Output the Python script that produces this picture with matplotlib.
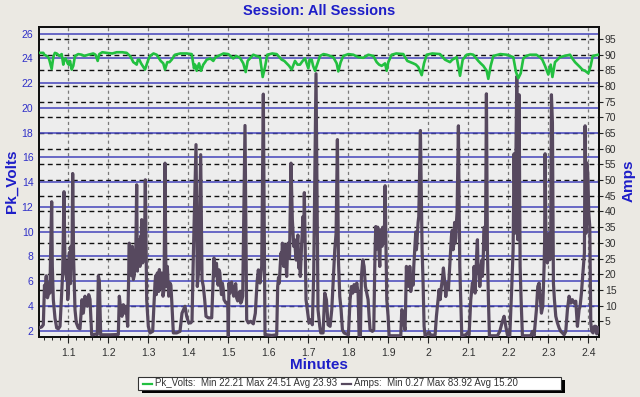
import matplotlib
matplotlib.use("Agg")
import matplotlib.pyplot as plt
import matplotlib.transforms as mtransforms
from matplotlib.patches import Rectangle
from matplotlib.lines import Line2D
from matplotlib.ticker import MultipleLocator

plt.rcParams['font.family'] = ['Liberation Sans', 'DejaVu Sans']

# ---------------- data ----------------
volt_t = [1.0268, 1.0375, 1.046, 1.0525, 1.0585, 1.0625, 1.071, 1.0835, 1.0875, 1.0935,
          1.0985, 1.1043, 1.1085, 1.1125, 1.1168, 1.1335, 1.15, 1.1625, 1.1735, 1.1775,
          1.196, 1.221, 1.246, 1.2543, 1.2625, 1.271, 1.2775, 1.286, 1.2918, 1.296,
          1.3043, 1.321, 1.331, 1.3375, 1.3418, 1.3475, 1.3585, 1.3668, 1.396, 1.4085,
          1.4143, 1.421, 1.4268, 1.4318, 1.4375, 1.446, 1.4625, 1.475, 1.5, 1.5125,
          1.5293, 1.5375, 1.5435, 1.5485, 1.5625, 1.5793, 1.586, 1.5918, 1.5975, 1.621,
          1.6335, 1.646, 1.6585, 1.6668, 1.6793, 1.6918, 1.7, 1.7085, 1.7168, 1.7293,
          1.746, 1.7625, 1.771, 1.775, 1.781, 1.7875, 1.8125, 1.8375, 1.8625, 1.871,
          1.8835, 1.8918, 1.896, 1.9, 1.9085, 1.9375, 1.9475, 1.9625, 1.975, 1.9835,
          1.9893, 1.996, 2.0293, 2.0418, 2.0543, 2.071, 2.0793, 2.086, 2.096, 2.1125,
          2.125, 2.1375, 2.146, 2.15, 2.156, 2.1625, 2.196, 2.2125, 2.2193, 2.225,
          2.231, 2.2375, 2.2543, 2.2793, 2.2918, 2.3, 2.306, 2.3103, 2.3168, 2.3293,
          2.3543, 2.3668, 2.3793, 2.3918, 2.4, 2.406, 2.411, 2.425]
volt_v = [24.45, 24.45, 24.2, 23.9, 23.15, 24.1, 24.4, 24.35, 23.5, 24.0,
          23.6, 23.8, 23.1, 23.4, 24.2, 24.3, 24.3, 24.4, 23.8, 24.35,
          24.45, 24.5, 24.45, 24.2, 23.7, 23.5, 23.9, 23.4, 23.1, 23.5,
          24.2, 24.3, 23.8, 23.6, 23.1, 23.7, 23.9, 24.3, 24.4, 24.35,
          23.2, 23.0, 23.6, 23.0, 23.5, 23.9, 23.8, 24.2, 24.35, 24.0,
          24.05, 23.6, 22.9, 23.8, 24.3, 24.1, 22.5, 23.3, 24.3, 24.35,
          23.9, 23.6, 23.1, 23.8, 23.5, 24.0, 23.2, 23.9, 23.0, 24.2,
          24.3, 24.1, 23.6, 22.95, 23.7, 24.2, 24.3, 24.05, 24.2, 23.7,
          23.4, 23.6, 23.0, 23.7, 24.3, 24.35, 23.8, 23.6, 23.3, 22.65,
          23.6, 24.3, 24.35, 23.9, 23.7, 24.1, 22.6, 23.9, 24.3, 24.3,
          23.8, 23.4, 23.0, 22.35, 23.4, 24.2, 24.3, 24.1, 22.9, 22.4,
          22.8, 24.0, 24.3, 24.1, 23.4, 22.7, 23.5, 22.5, 23.7, 24.1,
          24.3, 23.7, 23.3, 23.0, 22.8, 23.4, 24.2, 24.3]
# small in-between wiggles of the voltage trace
volt_extra_t = [1.04, 1.05, 1.0665, 1.078, 1.09, 1.101, 1.125, 1.14, 1.156, 1.168,
                1.185, 1.21, 1.235, 1.258, 1.267, 1.274, 1.282, 1.3, 1.313, 1.327,
                1.353, 1.38, 1.417, 1.442, 1.455, 1.468, 1.488, 1.52, 1.57, 1.61,
                1.64, 1.652, 1.673, 1.686, 1.704, 1.712, 1.738, 1.755, 1.8, 1.825,
                1.85, 1.877, 1.92, 1.955, 1.969, 2.01, 2.048, 2.06, 2.105, 2.131,
                2.18, 2.245, 2.27, 2.285, 2.34, 2.36, 2.385]
volt_extra_v = [24.3, 24.1, 24.45, 24.2, 23.9, 23.5, 24.35, 24.2, 24.35, 24.3,
                24.5, 24.4, 24.5, 24.0, 23.6, 23.9, 23.6, 23.9, 24.4, 24.0,
                23.7, 24.4, 23.5, 23.7, 24.0, 24.1, 24.4, 24.2, 24.2, 24.4,
                23.8, 23.4, 23.5, 23.8, 23.9, 23.4, 24.35, 24.2, 24.35, 24.1,
                24.3, 23.5, 24.4, 23.7, 23.5, 24.4, 23.8, 23.9, 24.35, 23.6,
                24.35, 24.2, 24.3, 23.9, 24.2, 24.0, 23.1]

amps_t = [1.0268, 1.0334, 1.0376, 1.0393, 1.0418, 1.0443, 1.046, 1.0501, 1.0526, 1.056,
          1.0585, 1.0601, 1.0626, 1.0668, 1.071, 1.0751, 1.0793, 1.0826, 1.086, 1.0893,
          1.0918, 1.096, 1.0985, 1.1018, 1.1043, 1.1068, 1.111, 1.1134, 1.1168, 1.1201,
          1.1251, 1.1293, 1.1343, 1.1376, 1.1418, 1.1443, 1.1476, 1.151, 1.1543, 1.1585,
          1.161, 1.1668, 1.1726, 1.1751, 1.1776, 1.181, 1.1834, 1.2043, 1.2251, 1.2276,
          1.231, 1.2343, 1.2376, 1.241, 1.2443, 1.2485, 1.2526, 1.2543, 1.2568, 1.2601,
          1.2626, 1.2668, 1.271, 1.2743, 1.2776, 1.281, 1.2835, 1.286, 1.2893, 1.2926,
          1.296, 1.3001, 1.3043, 1.311, 1.3168, 1.3201, 1.3226, 1.326, 1.3293, 1.3335,
          1.3368, 1.3418, 1.3443, 1.3476, 1.351, 1.3543, 1.3585, 1.3626, 1.371, 1.3793,
          1.3843, 1.3918, 1.396, 1.401, 1.406, 1.4093, 1.4126, 1.4193, 1.4226, 1.426,
          1.431, 1.4343, 1.4376, 1.441, 1.4443, 1.4501, 1.4585, 1.4643, 1.4685, 1.4726,
          1.4768, 1.481, 1.4851, 1.4893, 1.4943, 1.4985, 1.5001, 1.5018, 1.506, 1.511,
          1.516, 1.521, 1.526, 1.531, 1.536, 1.5418, 1.546, 1.5501, 1.556, 1.5626,
          1.5676, 1.5718, 1.5751, 1.5793, 1.5835, 1.5876, 1.5918, 1.596, 1.6085, 1.621,
          1.6235, 1.6276, 1.6318, 1.6351, 1.6385, 1.6426, 1.646, 1.6493, 1.6568, 1.6601,
          1.6635, 1.6676, 1.6718, 1.676, 1.6801, 1.6835, 1.6868, 1.6901, 1.6943, 1.6976,
          1.7018, 1.706, 1.7101, 1.7135, 1.7193, 1.7243, 1.7287, 1.7312, 1.737, 1.7412,
          1.7453, 1.7495, 1.7545, 1.7587, 1.7628, 1.7662, 1.7695, 1.7728, 1.7753, 1.7787,
          1.782, 1.7853, 1.7895, 1.8003, 1.8045, 1.8078, 1.8112, 1.8145, 1.8178, 1.8212,
          1.8245, 1.827, 1.8303, 1.8328, 1.8362, 1.8395, 1.8428, 1.8462, 1.8495, 1.852,
          1.8545, 1.8603, 1.8637, 1.8662, 1.8687, 1.872, 1.8753, 1.8787, 1.8812, 1.8845,
          1.8878, 1.892, 1.8962, 1.8995, 1.902, 1.9312, 1.9337, 1.937, 1.9395, 1.942,
          1.9453, 1.9487, 1.9512, 1.9537, 1.9562, 1.9603, 1.9637, 1.967, 1.9703, 1.9728,
          1.9762, 1.9803, 1.9845, 1.987, 1.9895, 1.992, 2.002, 2.0062, 2.017, 2.0203,
          2.0228, 2.027, 2.0295, 2.0328, 2.0353, 2.0378, 2.0412, 2.0437, 2.047, 2.0503,
          2.0545, 2.0578, 2.062, 2.0645, 2.067, 2.0703, 2.0753, 2.0787, 2.0812, 2.0837,
          2.0937, 2.0978, 2.102, 2.1062, 2.1103, 2.1145, 2.117, 2.1203, 2.1228, 2.1253,
          2.1287, 2.132, 2.1353, 2.1387, 2.1412, 2.1453, 2.1478, 2.1503, 2.1528, 2.1728,
          2.1787, 2.1853, 2.1895, 2.1937, 2.1978, 2.2037, 2.2087, 2.212, 2.2145, 2.217,
          2.2212, 2.2237, 2.227, 2.2295, 2.232, 2.2353, 2.2562, 2.2603, 2.2645, 2.2703,
          2.2737, 2.277, 2.2795, 2.2828, 2.2862, 2.2895, 2.292, 2.2953, 2.2978, 2.3003,
          2.3037, 2.3062, 2.3078, 2.3103, 2.3128, 2.3153, 2.3187, 2.3228, 2.327, 2.3312,
          2.3353, 2.3395, 2.3437, 2.3478, 2.352, 2.3562, 2.3603, 2.3645, 2.3687, 2.3728,
          2.377, 2.3795, 2.3828, 2.3853, 2.3878, 2.3903, 2.392, 2.3945, 2.3962, 2.3987,
          2.4012, 2.4037, 2.4062, 2.4087, 2.412, 2.4153, 2.4187, 2.4212, 2.425]
amps_a = [2.9, 3.2, 3.9, 11.9, 14.5, 18.7, 15.6, 13.5, 17.2, 27.8,
          43.1, 22.5, 11.9, 6.0, 2.9, 2.6, 3.4, 11.9, 20.4, 46.3,
          22.5, 18.3, 11.9, 25.7, 18.3, 28.9, 52.1, 24.6, 8.7, 4.5,
          2.9, 2.6, 11.9, 7.6, 13.0, 10.8, 9.8, 13.5, 12.0, 0.7,
          0.7, 0.9, 0.8, 19.5, 18.0, 0.7, 0.7, 0.7, 0.8, 13.0,
          8.7, 6.6, 10.3, 7.6, 9.8, 3.4, 29.9, 25.7, 22.5, 28.9,
          18.3, 24.6, 48.5, 28.9, 24.6, 32.1, 37.4, 23.6, 30.0, 50.1,
          11.9, 3.4, 1.3, 1.8, 17.2, 13.5, 20.4, 14.5, 18.3, 20.4,
          13.0, 55.4, 16.1, 22.5, 13.0, 17.2, 11.9, 1.3, 1.3, 1.8,
          7.6, 9.8, 6.6, 4.5, 4.5, 5.0, 25.7, 61.3, 16.1, 21.4,
          58.1, 18.3, 16.1, 11.9, 6.6, 6.1, 6.1, 25.2, 22.5, 18.3,
          21.4, 16.1, 17.2, 11.9, 10.8, 10.8, 0.3, 17.2, 16.7, 14.5,
          15.6, 12.4, 13.5, 10.8, 13.0, 67.4, 5.5, 4.5, 5.0, 4.2,
          7.6, 17.2, 21.4, 17.2, 22.5, 77.4, 0.7, 0.7, 0.5, 0.7,
          16.1, 17.2, 26.8, 29.9, 22.5, 27.0, 19.3, 29.9, 55.4, 37.4,
          28.9, 27.8, 29.9, 22.0, 19.3, 30.0, 38.4, 46.0, 11.9, 8.7,
          4.5, 5.5, 3.9, 20.0, 83.9, 8.7, 3.4, 1.3, 1.3, 14.0,
          11.9, 3.9, 3.4, 8.7, 19.3, 27.8, 33.1, 62.9, 24.6, 12.9,
          8.7, 2.3, 1.3, 0.7, 11.9, 16.1, 14.0, 16.7, 14.5, 17.2,
          14.0, 0.4, 0.4, 19.3, 24.6, 22.5, 16.1, 14.0, 11.9, 6.6,
          2.3, 1.8, 2.3, 22.5, 35.2, 33.1, 31.0, 22.5, 34.2, 28.9,
          33.1, 48.2, 11.9, 6.6, 0.4, 0.4, 8.7, 8.0, 3.9, 2.3,
          22.5, 19.3, 16.1, 22.5, 14.5, 19.3, 22.5, 29.9, 27.8, 33.1,
          38.4, 65.8, 27.8, 17.2, 3.4, 0.4, 1.5, 0.6, 0.6, 6.6,
          9.8, 15.1, 11.9, 16.1, 18.3, 22.0, 17.2, 12.9, 17.2, 15.1,
          24.6, 32.1, 27.8, 33.1, 29.9, 36.3, 67.3, 22.5, 10.8, 0.4,
          0.7, 1.3, 0.7, 11.9, 17.2, 22.5, 14.0, 24.6, 31.0, 20.4,
          16.1, 22.5, 19.3, 32.1, 27.8, 77.5, 27.8, 11.9, 0.4, 0.4,
          1.8, 5.0, 6.6, 3.4, 0.7, 0.4, 16.1, 27.8, 58.4, 33.1,
          83.0, 31.0, 77.2, 22.5, 11.9, 0.4, 0.4, 1.8, 0.4, 8.7,
          16.1, 17.2, 12.9, 7.6, 9.8, 22.5, 58.4, 27.8, 23.6, 31.0,
          24.6, 33.1, 77.2, 68.4, 17.2, 11.9, 6.6, 4.5, 2.9, 1.8,
          1.3, 0.7, 1.8, 8.7, 13.0, 10.8, 11.9, 10.8, 11.4, 3.4,
          8.7, 9.8, 14.0, 18.3, 22.5, 26.8, 67.3, 33.1, 55.5, 52.3,
          39.5, 35.2, 4.5, 1.8, 1.3, 3.4, 3.4, 1.0, 3.0]
# extra readings inside the dense, jittery bursts of the current trace
amps_extra_t = [1.0405, 1.043, 1.0451, 1.048, 1.0513, 1.054,
                1.0972, 1.1003, 1.103, 1.1055, 1.108, 1.1095,
                1.2534, 1.2555, 1.2585, 1.2614, 1.2648, 1.269, 1.2727, 1.276, 1.2793, 1.2822,
                1.2848, 1.2876, 1.291,
                1.3185, 1.3214, 1.3243, 1.3277, 1.3314, 1.3352, 1.3393, 1.346, 1.3493, 1.3527,
                1.3565,
                1.4664, 1.4705, 1.4747, 1.4789, 1.483, 1.4872,
                1.5039, 1.5085, 1.5135, 1.5185, 1.5235, 1.5285, 1.5335,
                1.6256, 1.6297, 1.6335, 1.6368, 1.6405, 1.6443, 1.6477, 1.653, 1.6618, 1.6656,
                1.6697, 1.674, 1.678, 1.6818, 1.6852, 1.6884,
                1.8675, 1.8703, 1.8737, 1.877, 1.88, 1.8828, 1.8862, 1.89,
                1.947, 1.95, 1.9525, 1.955, 1.9582, 1.962, 1.9654, 1.9687, 1.9716, 1.9745,
                2.056, 2.06, 2.0633, 2.0658, 2.0687, 2.072,
                2.1124, 2.1157, 2.1187, 2.1215, 2.124, 2.127, 2.1303, 2.1337, 2.137, 2.14, 2.143,
                2.2908, 2.2937, 2.2966, 2.299, 2.302, 2.305]
amps_extra_a = [16.5, 13.0, 19.5, 12.5, 16.5, 14.0,
                24.0, 14.5, 27.0, 17.0, 24.0, 30.0,
                20.0, 28.5, 19.5, 26.0, 19.5, 29.0, 21.0, 31.0, 22.5, 27.5,
                31.5, 26.5, 34.0,
                19.5, 16.5, 17.5, 21.5, 15.5, 18.0, 15.0, 19.5, 17.5, 14.5,
                16.5,
                19.5, 23.5, 16.5, 20.5, 13.5, 15.5,
                14.0, 17.5, 13.0, 17.0, 11.5, 14.5, 11.5,
                19.0, 22.5, 23.5, 27.5, 29.5, 23.0, 26.0, 25.0, 33.5, 31.0,
                24.5, 32.5, 25.0, 24.5, 34.0, 30.5,
                30.0, 28.0, 35.0, 27.0, 30.0, 30.5, 35.0, 30.0,
                17.5, 21.5, 18.0, 19.5, 17.5, 16.5, 26.5, 33.5, 30.0, 36.5,
                27.5, 34.0, 29.0, 36.5, 31.5, 40.0,
                15.5, 19.5, 19.0, 28.0, 24.0, 22.0, 19.5, 24.5, 23.5, 35.0, 30.0,
                30.0, 35.0, 31.0, 28.0, 33.0, 27.5]

volt_ticks = [2, 4, 6, 8, 10, 12, 14, 16, 18, 20, 22, 24, 26]
amps_ticks = [5, 10, 15, 20, 25, 30, 35, 40, 45, 50, 55, 60, 65, 70, 75, 80, 85, 90, 95]
minute_ticks = [1.1, 1.2, 1.3, 1.4, 1.5, 1.6, 1.7, 1.8, 1.9, 2.0, 2.1, 2.2, 2.3, 2.4]
minute_labels = ['1.1', '1.2', '1.3', '1.4', '1.5', '1.6', '1.7', '1.8', '1.9', '2', '2.1', '2.2', '2.3', '2.4']
legend_volts = 'Pk_Volts:  Min 22.21 Max 24.51 Avg 23.93'
legend_amps = 'Amps:  Min 0.27 Max 83.92 Avg 15.20'

# merge readings in time order
vpts = sorted(zip(volt_t + volt_extra_t, volt_v + volt_extra_v))
apts = sorted(zip(amps_t + amps_extra_t, amps_a + amps_extra_a))
vt, vv = [p[0] for p in vpts], [p[1] for p in vpts]
at, aa = [p[0] for p in apts], [p[1] for p in apts]

# ---------------- style ----------------
FIG_BG = '#EBE9E3'
AX_BG = '#EDEDED'
BLUE_TXT = '#1E1EC8'
BLUE_GRID = '#4444BB'
GREEN = '#22C040'
AMPS_C = '#57495F'

W, H = 640, 397
fig = plt.figure(figsize=(6.4, 3.97), dpi=100, facecolor=FIG_BG)
ax = fig.add_axes([39 / W, 1 - 337 / H, (598.5 - 39) / W, (337 - 27) / H])
ax2 = ax.twinx()
ax.set_facecolor(AX_BG)

ax.set_xlim(1.0268, 2.4255)
ax.set_ylim(1.49, 26.54)
ax2.set_ylim(0, 98.8)

for t in minute_ticks:
    ax2.axvline(t, color='#7A7A7A', lw=0.9, ls=(0, (2.5, 2.5)), zorder=1)
for a in amps_ticks:
    ax2.axhline(a, color='#111111', lw=1.0, ls=(0, (3.5, 2.5)), zorder=1.2)
btrans = mtransforms.blended_transform_factory(ax2.transAxes, ax.transData)
for v in volt_ticks:
    ax2.plot([0, 1], [v, v], color=BLUE_GRID, lw=1.1, transform=btrans, zorder=1.4)

ax2.plot(at, aa, color=AMPS_C, lw=2.3, zorder=3)
ax2.plot(vt, vv, color=GREEN, lw=1.9, zorder=4, transform=ax.transData)

ax.set_yticks(volt_ticks)
ax.set_yticklabels([str(v) for v in volt_ticks], color='#3030C8', fontsize=7.5)
ax.tick_params(axis='y', length=0, pad=4)
ax2.set_yticks(amps_ticks)
ax2.set_yticklabels([str(a) for a in amps_ticks], color='#303030', fontsize=7.5)
ax2.tick_params(axis='y', length=3, width=0.8, pad=1.5, direction='out', color='#222222')
ax.set_xticks(minute_ticks)
ax.set_xticklabels(minute_labels, color='#303030', fontsize=7.5)
ax.xaxis.set_minor_locator(MultipleLocator(0.02))
ax.tick_params(axis='x', which='major', length=4, width=0.8, pad=4, color='#222222')
ax.tick_params(axis='x', which='minor', length=2, width=0.7, color='#222222')
for s in list(ax.spines.values()) + list(ax2.spines.values()):
    s.set_linewidth(1.4)
    s.set_color('#111111')

fig.text(319 / W, 1 - 11 / H, 'Session: All Sessions', ha='center', va='center',
         fontsize=10.5, fontweight='bold', color=BLUE_TXT)
fig.text(12 / W, 1 - 181 / H, 'Pk_Volts', ha='center', va='center', rotation=90,
         fontsize=11, fontweight='bold', color=BLUE_TXT)
fig.text(629 / W, 1 - 181 / H, 'Amps', ha='center', va='center', rotation=90,
         fontsize=11, fontweight='bold', color=BLUE_TXT)
fig.text(319 / W, 1 - 365 / H, 'Minutes', ha='center', va='center',
         fontsize=11, fontweight='bold', color=BLUE_TXT)

lx0, lx1, ly0, ly1 = 138, 561, 377, 390
fig.patches.append(Rectangle(((lx0 + 4) / W, 1 - (ly1 + 3) / H), (lx1 - lx0) / W, (ly1 - ly0) / H,
                             transform=fig.transFigure, facecolor='black', edgecolor='none', zorder=1))
fig.patches.append(Rectangle((lx0 / W, 1 - ly1 / H), (lx1 - lx0) / W, (ly1 - ly0) / H,
                             transform=fig.transFigure, facecolor='white', edgecolor='#333333', lw=0.8, zorder=2))
ymid = 1 - 383.5 / H
fig.lines.append(Line2D([143 / W, 152 / W], [ymid, ymid], transform=fig.transFigure, color=GREEN, lw=1.6, zorder=3))
fig.text(155 / W, ymid, legend_volts, ha='left', va='center', fontsize=7, color='#333333', zorder=3)
fig.lines.append(Line2D([342 / W, 351 / W], [ymid, ymid], transform=fig.transFigure, color=AMPS_C, lw=1.6, zorder=3))
fig.text(354 / W, ymid, legend_amps, ha='left', va='center', fontsize=7, color='#333333', zorder=3)

fig.savefig('out.png', dpi=100, facecolor=FIG_BG)
